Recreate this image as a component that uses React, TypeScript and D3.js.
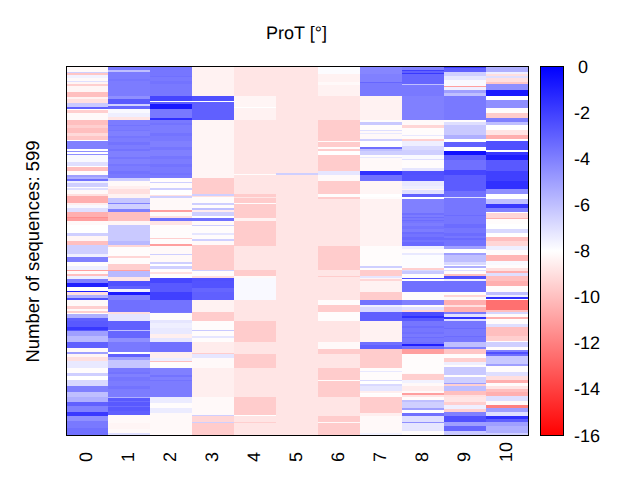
import React from "react";
import * as d3 from "d3";

const columnLabels = ["0","1","2","3","4","5","6","7","8","9","10"];
const sequenceCount = 599;
const colorbarTicks = [0,-2,-4,-6,-8,-10,-12,-14,-16];

// each band: [last sequence index of the band, value in degrees]
const col0 = [[8,-8.2],[10,-6.5],[14,-9.8],[19,-7.6],[23,-8.2],[25,-7],[28,-8.3],[32,-9.5],[41,-8.3],[49,-10],[53,-8.4],[59,-9],[66,-6.3],[68,-3],[71,-8],[75,-9.5],[86,-8.2],[95,-10],[100,-9.5],[107,-10],[113,-9.2],[119,-9.8],[121,-8],[133,-4],[136,-8],[139,-4.5],[142,-8],[144,-4.5],[155,-7.8],[161,-7],[163,-8],[170,-10],[175,-8.1],[179,-5],[182,-5.5],[185,-3.5],[189,-7.5],[195,-6.5],[197,-8.1],[200,-7],[206,-8.2],[209,-9],[221,-10.5],[224,-8.5],[230,-7.8],[235,-7],[243,-10.5],[245,-11.5],[250,-11],[257,-8.2],[269,-8],[275,-6.5],[282,-8.3],[289,-10],[297,-6.5],[298,-5],[304,-6.5],[309,-7.5],[316,-4],[323,-8.1],[329,-7.5],[332,-11],[337,-8.2],[340,-10],[345,-7.5],[351,-4],[358,-1],[363,-8],[366,-1],[370,-9],[375,-5.5],[379,-2.5],[388,-8.2],[393,-9.5],[396,-8.2],[399,-9.5],[401,-8.1],[407,-5.5],[412,-3],[422,-2.8],[427,-1.8],[428,-2.8],[436,-5],[447,-5.8],[456,-3],[463,-8.2],[466,-5],[470,-8.3],[477,-9],[488,-7.3],[496,-8.1],[501,-6.5],[508,-8],[517,-6.8],[528,-4],[535,-6],[543,-5.5],[550,-3],[560,-4],[566,-1.8],[574,-4.5],[586,-3.8],[598,-3.5]];
const col1 = [[6,-3.8],[8,-6],[20,-3.9],[24,-3.7],[48,-3.9],[52,-4.5],[61,-2.8],[64,-6.5],[68,-3.2],[75,-7.8],[81,-7.5],[86,-8.8],[95,-3.9],[97,-3.6],[103,-3.9],[105,-3.7],[113,-4],[115,-3.7],[122,-3.9],[127,-3.6],[134,-3.9],[137,-3.6],[146,-4],[149,-3.7],[158,-4],[161,-3.7],[170,-3.9],[174,-3.6],[180,-3.8],[185,-6.5],[193,-8.2],[199,-8.5],[206,-9],[213,-8.4],[221,-6.2],[223,-4],[231,-6.5],[235,-4],[250,-10],[257,-8.3],[282,-6.3],[289,-5.8],[293,-9.3],[307,-8.1],[310,-9.3],[320,-8.1],[329,-9.5],[332,-11],[341,-5.8],[347,-8.8],[355,-2.5],[361,-3],[366,-7.5],[371,-0.8],[379,-4],[397,-3.5],[398,-8.5],[401,-9],[412,-7.2],[427,-3],[428,-6],[440,-3.2],[446,-4.5],[463,-3.8],[466,-8],[470,-3],[475,-5],[488,-6.2],[495,-3.8],[498,-3.6],[503,-4],[510,-3.7],[517,-3.9],[522,-3.6],[535,-3.9],[537,-5.5],[542,-2.8],[544,-3.4],[550,-2.8],[552,-3.4],[558,-2.8],[564,-3],[577,-8.2],[588,-8.3],[594,-8.2],[598,-7]];
const col2 = [[15,-3.7],[17,-3.5],[24,-3.8],[28,-3.6],[48,-3.8],[55,-2.2],[58,-8],[61,-3],[69,-0.8],[83,-3.8],[86,-1.5],[92,-3.8],[95,-3.6],[108,-3.9],[112,-3.6],[120,-3.8],[130,-4],[135,-3.7],[145,-4],[150,-3.7],[158,-3.9],[163,-3.6],[172,-3.8],[176,-3.6],[180,-3.8],[187,-8.1],[189,-6.5],[197,-8.1],[200,-6.5],[208,-8],[210,-9],[213,-6.5],[233,-8.2],[235,-11],[242,-8.2],[246,-9],[250,-3.5],[257,-8.8],[278,-8.1],[280,-9.5],[288,-8.1],[290,-11],[303,-8.2],[305,-6.5],[316,-8.2],[320,-6.5],[324,-8],[328,-6.5],[333,-8.1],[337,-9],[342,-8.1],[350,-2.2],[366,-2.8],[379,-2],[397,-3.6],[399,-3.8],[411,-8.1],[416,-7.2],[423,-7.5],[433,-7.3],[440,-8.5],[446,-7.2],[463,-3.5],[473,-8.5],[477,-7.5],[479,-10],[488,-8.1],[500,-4],[503,-3.6],[508,-4],[510,-3.6],[535,-3.9],[545,-7.4],[554,-8.1],[561,-7.4],[598,-8.2]];
const col3 = [[48,-8.4],[55,-2.5],[58,-8],[87,-3],[180,-8.3],[206,-9.6],[209,-6.5],[212,-9],[221,-8.1],[224,-6.5],[230,-8.1],[232,-6],[235,-8.6],[242,-6.5],[246,-8],[250,-3.5],[256,-8.2],[259,-6.5],[269,-8.1],[273,-7.2],[280,-8.1],[282,-6.5],[289,-8.2],[329,-9.6],[332,-6.5],[340,-8.1],[342,-9],[347,-2.5],[348,-4],[359,-2.6],[366,-3.2],[378,-3],[397,-8.4],[412,-9.6],[427,-8.1],[428,-6.3],[436,-8.1],[440,-7.2],[446,-8.1],[464,-8.6],[466,-9.6],[472,-7.2],[488,-8.2],[535,-8.5],[564,-8.2],[567,-6.5],[576,-9.3],[577,-6.5],[598,-9.6]];
const col4 = [[48,-8.8],[65,-8.3],[67,-8],[87,-8.4],[174,-8.8],[176,-8.1],[206,-8.8],[211,-9.6],[213,-8.8],[221,-9.6],[222,-8.1],[229,-9.6],[230,-8.1],[246,-9.6],[250,-8.4],[290,-9.6],[329,-8.8],[340,-9.6],[342,-8.2],[378,-7.8],[412,-8.8],[446,-9.6],[466,-8.8],[488,-9.6],[535,-8.8],[564,-9.6],[566,-8],[576,-8.8],[577,-9.5],[598,-8.8]];
const col5 = [[173,-8.8],[175,-6.5],[598,-8.8]];
const col6 = [[12,-7.9],[25,-8.4],[30,-8.2],[48,-8.4],[87,-8.8],[121,-9.6],[122,-8.1],[131,-9.6],[133,-8.1],[137,-9.6],[143,-8],[170,-9.6],[176,-7.2],[185,-8.2],[206,-9.6],[211,-8.1],[214,-9.6],[290,-8.8],[329,-9.6],[340,-8.8],[341,-9.6],[379,-8.8],[387,-8.1],[397,-9.6],[412,-8.1],[446,-8.8],[458,-8.2],[466,-9.6],[488,-8.8],[508,-9.6],[509,-8.1],[535,-9.6],[566,-8.8],[576,-9.6],[577,-8.2],[598,-9.6]];
const col7 = [[12,-4.2],[25,-4],[27,-3.2],[48,-3.8],[87,-8.4],[90,-8.1],[95,-6.3],[102,-8.1],[104,-7],[107,-8.2],[109,-7.3],[118,-8.2],[120,-6.5],[121,-7.5],[131,-8],[133,-3.5],[137,-6],[143,-6.5],[146,-8.1],[148,-7.3],[170,-8.2],[176,-1.5],[185,-3.5],[206,-8.3],[211,-8],[214,-8.1],[290,-8.4],[324,-8.1],[326,-6.5],[329,-8.1],[340,-9.6],[342,-7.2],[345,-8.3],[347,-9.3],[366,-8.4],[379,-9.6],[387,-3.6],[390,-7.5],[397,-6.8],[412,-3],[446,-8.4],[452,-3.5],[458,-3],[488,-9.6],[493,-8.1],[495,-7.3],[508,-8.1],[510,-6.8],[514,-8],[517,-6.8],[526,-7.2],[529,-8.5],[531,-8],[535,-8.1],[561,-9.6],[566,-8.5],[594,-8.2],[598,-7.6]];
const col8 = [[5,-4],[7,-2],[10,-3],[12,-1.8],[28,-3.2],[30,-6],[48,-3.8],[87,-4],[95,-8.2],[100,-9.3],[111,-8.1],[113,-7.3],[118,-8.1],[121,-9.5],[129,-7.5],[135,-6.8],[143,-6.5],[150,-7.8],[152,-7],[165,-8.1],[170,-7.2],[176,-2.5],[185,-2.6],[194,-7.3],[198,-7.5],[200,-8.3],[206,-7],[211,-3],[214,-8],[238,-4],[241,-3.5],[243,-3.9],[246,-3.4],[249,-3.8],[251,-3.4],[253,-3.7],[258,-3.9],[264,-3.6],[268,-3.9],[272,-3.4],[276,-3.6],[281,-3.3],[284,-3.6],[290,-3.3],[295,-7.5],[302,-8.1],[305,-7.3],[326,-7.9],[329,-9.5],[332,-6.8],[337,-6.3],[342,-8.1],[345,-2.5],[347,-8],[366,-3.5],[378,-8.1],[379,-5.5],[387,-4],[390,-8.1],[394,-7],[397,-9.3],[404,-2.4],[407,-1.5],[412,-2.8],[421,-3.7],[423,-3.4],[430,-3.7],[433,-3.5],[438,-3.8],[440,-3.4],[446,-3.7],[449,-3.5],[453,-1],[458,-3.5],[466,-11],[496,-8.1],[499,-8.2],[508,-9.5],[513,-7.6],[517,-8.2],[526,-8.6],[529,-8.2],[532,-11],[535,-8.8],[540,-8.1],[543,-6],[553,-6.5],[556,-5],[561,-8],[566,-3.5],[576,-7],[577,-4.5],[590,-7.2],[598,-8.1]];
const col9 = [[3,-2],[9,-3],[16,-6.5],[22,-7.2],[31,-7.8],[33,-11],[38,-7.5],[42,-5],[48,-6],[87,-3.8],[90,-8.1],[95,-7],[111,-6.3],[118,-5.5],[123,-8],[131,-3],[137,-8],[143,-0.5],[152,-3],[168,-3.5],[176,-2.2],[201,-2.9],[211,-3.5],[213,-7],[240,-3.7],[242,-3.4],[255,-3.7],[262,-3.4],[270,-3.7],[274,-3.4],[278,-3.7],[281,-3.3],[290,-3.6],[295,-5],[302,-8],[305,-5],[316,-6],[321,-6.8],[324,-8],[326,-5.5],[329,-8],[332,-7],[337,-8.1],[340,-10],[345,-2.5],[347,-7.5],[366,-3.5],[371,-8.1],[373,-9.3],[379,-8.2],[387,-10.5],[390,-9],[397,-10.5],[401,-3.8],[406,-7],[409,-1.5],[412,-7],[424,-3.7],[426,-3.4],[436,-3.8],[438,-3.4],[446,-3.7],[454,-6],[458,-4],[466,-9.8],[472,-8.1],[479,-9.5],[484,-7.5],[487,-8.1],[500,-6.3],[503,-8.1],[513,-6.5],[515,-5],[518,-9.5],[526,-6],[532,-10],[535,-9],[543,-8.8],[548,-9.5],[555,-7.5],[560,-9.5],[566,-4],[576,-2.5],[583,-5],[591,-3.2],[598,-6.3]];
const col10 = [[9,-5.5],[12,-7.5],[16,-9],[19,-7],[25,-9],[28,-9.8],[38,-4.5],[48,-0.8],[54,-8],[67,-4.5],[76,-8.1],[84,-9.6],[90,-4],[95,-6],[103,-8],[111,-8.8],[118,-10.5],[121,-8],[135,-2.5],[139,-8],[143,-1.8],[152,-1],[170,-2.8],[185,-2],[198,-1.5],[206,-4.5],[215,-8],[222,-6],[229,-1.8],[235,-4],[238,-8],[245,-9.3],[247,-10.5],[255,-8.1],[263,-8],[269,-6.8],[276,-8],[282,-10],[290,-9.3],[297,-7.5],[305,-8.1],[315,-10.3],[321,-7.8],[326,-8.1],[332,-9],[334,-10.5],[339,-7],[347,-10],[355,-10.5],[366,-8.1],[371,-6],[374,-7.5],[376,-1.5],[379,-8],[394,-12.5],[397,-10],[401,-6.7],[406,-8.1],[409,-10.5],[417,-8.1],[422,-7],[436,-10],[445,-9.5],[447,-8.1],[454,-6.5],[459,-8.1],[462,-4],[466,-2.5],[469,-3.5],[482,-6.3],[485,-5],[495,-8.1],[501,-7],[508,-9],[513,-10.5],[517,-8.1],[523,-8.8],[528,-10],[534,-10.5],[542,-7],[548,-8.2],[553,-12],[560,-5],[566,-7],[571,-1.5],[576,-3],[583,-5],[594,-5.5],[598,-6.5]];
const columns = [col0,col1,col2,col3,col4,col5,col6,col7,col8,col9,col10];

const FONT = "'Liberation Sans', Arial, sans-serif";
const left = 66, right = 528, top = 66, bottom = 435.5;

export default function App() {
  const x = d3.scaleBand<string>().domain(columnLabels).range([left, right]);
  const y = d3.scaleLinear().domain([0, sequenceCount]).range([top, bottom]);
  const color = d3.scaleLinear<string>().domain([-16, -8, 0]).range(["#ff0000", "#ffffff", "#0000ff"]);
  const cb = d3.scaleLinear().domain([0, -16]).range([66.5, 435.5]);
  const stops = [0, -8, -16];
  return (
    <svg width={640} height={480} style={{ position: "absolute", left: 0, top: 0 }} fontFamily={FONT} textRendering="geometricPrecision">
      <defs>
        <linearGradient id="cb" x1="0" y1="0" x2="0" y2="1">
          {stops.map((s) => <stop key={s} offset={(cb(s) - 66.5) / 369} stopColor={color(s)} />)}
        </linearGradient>
      </defs>
      <rect width={640} height={480} fill="#fff" />
      <text x={296.5} y={38.5} textAnchor="middle" fontSize={18}>ProT [°]</text>
      {columns.map((bands, ci) => {
        let prev = 0;
        return bands.map(([end, v], i) => {
          const y0 = y(prev), y1 = y(end + 1);
          prev = end + 1;
          return <rect key={ci + "-" + i} x={x(columnLabels[ci])} width={x.bandwidth()} y={y0} height={y1 - y0} fill={color(v)} shapeRendering="crispEdges" />;
        });
      })}
      <rect x={66.5} y={66.5} width={462} height={369} fill="none" stroke="#000" strokeWidth={1} />
      {columnLabels.map((c) => (
        <text key={c} transform={`translate(${x(c)! + x.bandwidth() / 2 + 4.5},462) rotate(-90)`} textAnchor="start" fontSize={18}>{c}</text>
      ))}
      <text transform="translate(39,251.5) rotate(-90)" textAnchor="middle" fontSize={18.5}>Number of sequences: 599</text>
      <rect x={540.5} y={66.5} width={23} height={369} fill="url(#cb)" stroke="#000" strokeWidth={1} />
      {colorbarTicks.map((t) => (
        <text key={t} x={t === 0 ? 578 : 574} y={cb(t) + 6} fontSize={18}>{t}</text>
      ))}
    </svg>
  );
}
